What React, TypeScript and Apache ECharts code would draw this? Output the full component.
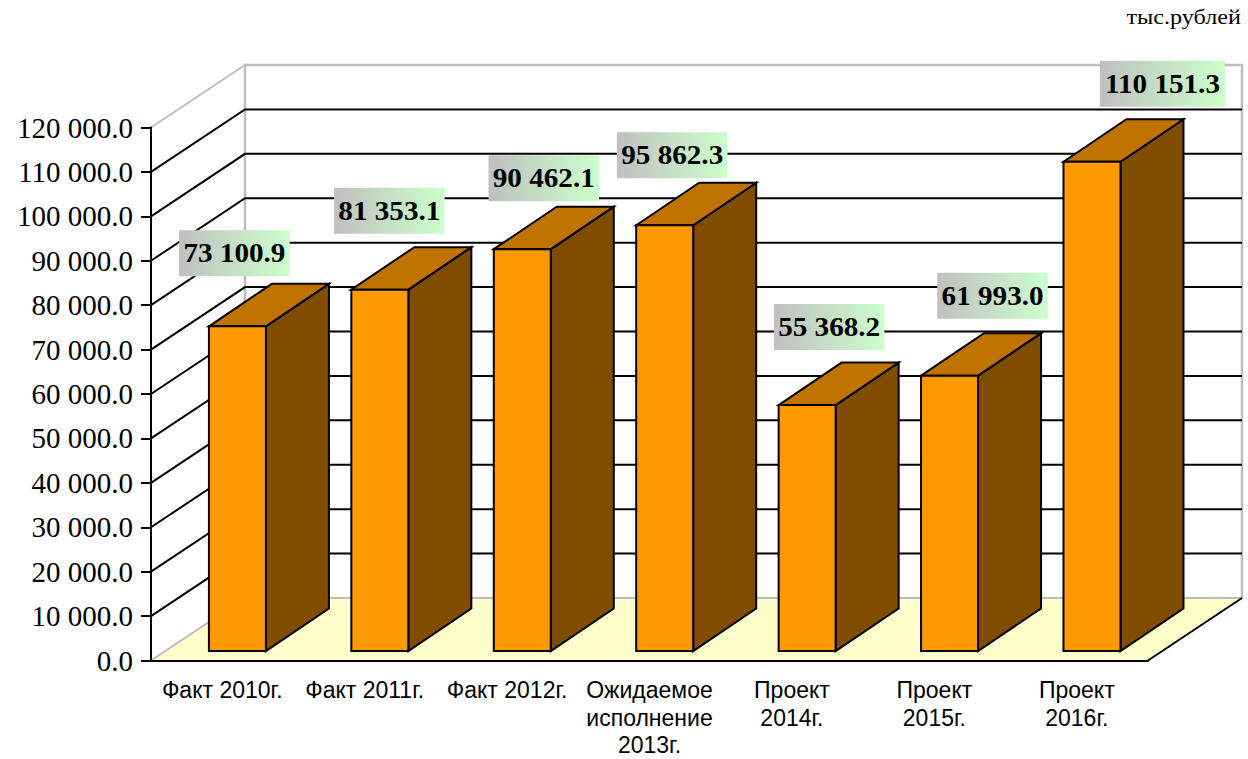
import React, { useEffect, useRef } from "react";
import * as echarts from "echarts";

const categories = [
  "Факт 2010г.",
  "Факт 2011г.",
  "Факт 2012г.",
  "Ожидаемое\nисполнение\n2013г.",
  "Проект\n2014г.",
  "Проект\n2015г.",
  "Проект\n2016г.",
];
const values = [73100.9, 81353.1, 90462.1, 95862.3, 55368.2, 61993.0, 110151.3];
const gridValues = [10000, 20000, 30000, 40000, 50000, 60000, 70000, 80000, 90000, 100000, 110000];
const unitText = "тыс.рублей";

// Hand placement of the value labels, relative to the bar's front-top centre.
const labelDx = [-3, 9.5, 21.5, 7.5, 22, 43, 70.5];
const labelDy = [-73, -79, -71, -70, -78, -80, -78];

const WALL_DX = 94;
const WALL_DY = -62.5;
const BAR_SHIFT_X = 15.2;
const BAR_SHIFT_Y = -9.5;
const BAR_W = 57;
const BAR_DX = 63;
const BAR_DY = -42.5;
const LABEL_H = 46;
const MAX = 120000;
const FRONT = "#FF9900";
const TOP = "#C07300";
const SIDE = "#804D00";
const FLOOR = "#FFFFCC";
const WALL = "#BDBDBD";
const LINE = "#000000";

const fmtNum = (v: number) =>
  v.toFixed(1).replace(/\B(?=(\d{3})+(?!\d))/g, " ");

const poly = (points: number[][], fill: string, stroke: string | null = LINE, lineWidth = 2) => ({
  type: "polygon",
  shape: { points },
  style: { fill, stroke: stroke ?? "none", lineWidth, lineJoin: "miter" },
});
const lineEl = (points: number[][], stroke: string, lineWidth = 2) => ({
  type: "polyline",
  shape: { points },
  style: { fill: "none", stroke, lineWidth },
});

function buildOption() {
  return {
    animation: false,
    backgroundColor: "#ffffff",
    grid: { left: 151, top: 127.5, width: 997, height: 533, containLabel: false, outerBoundsMode: "none" },
    graphic: [
      {
        type: "text",
        x: 1241,
        y: 17,
        scaleX: 1.12,
        z: 10,
        style: {
          text: unitText,
          fill: "#000",
          font: '21.6px "Liberation Serif", serif',
          align: "right",
          verticalAlign: "middle",
        },
      },
    ],
    xAxis: {
      type: "category",
      data: categories,
      z: 5,
      axisLine: { show: true, lineStyle: { color: LINE, width: 2 } },
      axisTick: { show: false },
      axisLabel: {
        interval: 0,
        margin: 15.8,
        color: "#000",
        fontFamily: '"Liberation Sans", Arial, sans-serif',
        fontSize: 23,
        lineHeight: 27.5,
        align: "center",
        hideOverlap: false,
      },
    },
    yAxis: {
      type: "value",
      min: 0,
      max: MAX,
      interval: 10000,
      z: 5,
      axisLine: { show: true, lineStyle: { color: LINE, width: 2 } },
      axisTick: { show: true, length: 10, lineStyle: { color: LINE, width: 2 } },
      splitLine: { show: false },
      axisLabel: {
        margin: 18,
        color: "#000",
        fontFamily: '"Liberation Serif", "Times New Roman", serif',
        fontSize: 29,
        formatter: (v: number) => fmtNum(v),
      },
    },
    series: [
      {
        type: "custom",
        name: "walls",
        coordinateSystem: "cartesian2d",
        data: [[0, 0]],
        silent: true,
        clip: false,
        z: 1,
        renderItem: (params: any, api: any) => {
          const c = params.coordSys;
          const x0 = c.x;
          const x1 = c.x + c.width;
          const yb = c.y + c.height;
          const yt = c.y;
          return {
            type: "group",
            children: [
              poly(
                [
                  [x0, yb],
                  [x0 + WALL_DX, yb + WALL_DY],
                  [x1 + WALL_DX, yb + WALL_DY],
                  [x1, yb],
                ],
                FLOOR,
                null
              ),
              lineEl(
                [
                  [x0, yb],
                  [x0 + WALL_DX, yb + WALL_DY],
                  [x1 + WALL_DX, yb + WALL_DY],
                ],
                WALL
              ),
              lineEl(
                [
                  [x0 + WALL_DX, yb + WALL_DY],
                  [x0 + WALL_DX, yt + WALL_DY],
                  [x1 + WALL_DX, yt + WALL_DY],
                  [x1 + WALL_DX, yb + WALL_DY],
                ],
                WALL,
                2.5
              ),
              lineEl(
                [
                  [x0, yt],
                  [x0 + WALL_DX, yt + WALL_DY],
                ],
                WALL
              ),
              lineEl(
                [
                  [x1, yb],
                  [x1 + WALL_DX, yb + WALL_DY],
                ],
                LINE
              ),
            ],
          };
        },
      },
      {
        type: "custom",
        name: "grid",
        coordinateSystem: "cartesian2d",
        data: gridValues.map((v) => [0, v]),
        silent: true,
        clip: false,
        z: 2,
        renderItem: (params: any, api: any) => {
          const c = params.coordSys;
          const y = api.coord([0, api.value(1)])[1];
          return lineEl(
            [
              [c.x, y],
              [c.x + WALL_DX, y + WALL_DY],
              [c.x + c.width + WALL_DX, y + WALL_DY],
            ],
            LINE
          );
        },
      },
      {
        type: "custom",
        name: "bars",
        coordinateSystem: "cartesian2d",
        data: values.map((v, i) => [i, v]),
        silent: true,
        clip: false,
        z: 3,
        renderItem: (params: any, api: any) => {
          const i = api.value(0);
          const top = api.coord([i, api.value(1)]);
          const base = api.coord([i, 0]);
          const l = top[0] + BAR_SHIFT_X - BAR_W / 2;
          const r = l + BAR_W;
          const yt = top[1] + BAR_SHIFT_Y;
          const yb = base[1] + BAR_SHIFT_Y;
          return {
            type: "group",
            children: [
              poly(
                [
                  [r, yt],
                  [r + BAR_DX, yt + BAR_DY],
                  [r + BAR_DX, yb + BAR_DY],
                  [r, yb],
                ],
                SIDE
              ),
              poly(
                [
                  [l, yt],
                  [l + BAR_DX, yt + BAR_DY],
                  [r + BAR_DX, yt + BAR_DY],
                  [r, yt],
                ],
                TOP
              ),
              poly(
                [
                  [l, yt],
                  [r, yt],
                  [r, yb],
                  [l, yb],
                ],
                FRONT
              ),
            ],
          };
        },
      },
      {
        type: "custom",
        name: "labels",
        coordinateSystem: "cartesian2d",
        data: values.map((v, i) => [i, v]),
        silent: true,
        clip: false,
        z: 4,
        renderItem: (params: any, api: any) => {
          const i = api.value(0);
          const p = api.coord([i, api.value(1)]);
          const cx = p[0] + BAR_SHIFT_X + labelDx[i];
          const cy = p[1] + BAR_SHIFT_Y + labelDy[i];
          const text = fmtNum(api.value(1));
          const digits = text.replace(/[^0-9]/g, "").length;
          const w = (digits * 0.5 + 0.5) * 29.3 + 8;
          return {
            type: "group",
            children: [
              {
                type: "rect",
                shape: { x: cx - w / 2, y: cy - LABEL_H / 2, width: w, height: LABEL_H },
                style: {
                  fill: new echarts.graphic.LinearGradient(0, 0, 1, 0, [
                    { offset: 0, color: "#C0C0C0" },
                    { offset: 1, color: "#CCFFCC" },
                  ]),
                },
              },
              {
                type: "text",
                x: cx,
                y: cy,
                scaleX: 1.1,
                style: {
                  text,
                  fill: "#000",
                  font: 'bold 26.5px "Liberation Serif", "Times New Roman", serif',
                  align: "center",
                  verticalAlign: "middle",
                },
              },
            ],
          };
        },
      },
    ],
  };
}

export default function App() {
  const ref = useRef<HTMLDivElement>(null);
  useEffect(() => {
    const chart = echarts.init(ref.current!, undefined, { renderer: "svg" });
    chart.setOption(buildOption() as any);
    return () => chart.dispose();
  }, []);
  return (
    <div
      ref={ref}
      style={{ position: "absolute", left: 0, top: 0, width: 1248, height: 759, overflow: "hidden" }}
    />
  );
}
